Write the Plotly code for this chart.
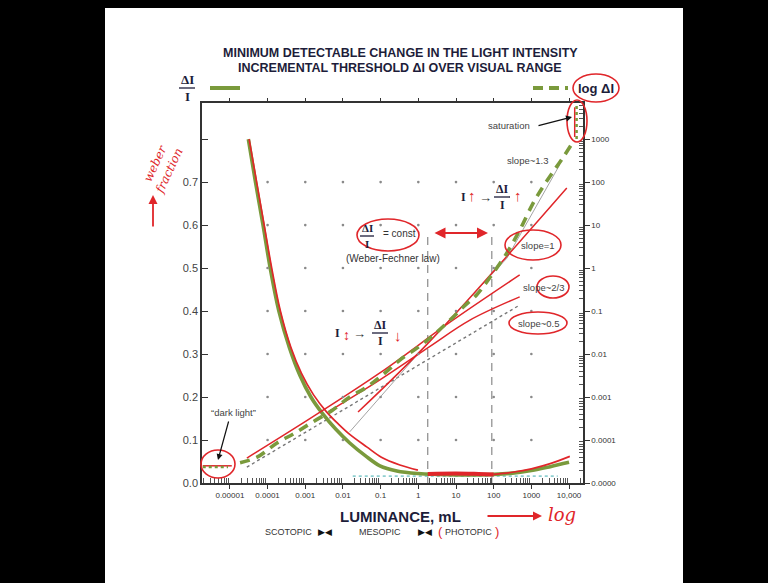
import numpy as np
import plotly.graph_objects as go

# ---------------------------------------------------------------- data
# Weber fraction dI/I against luminance (x stored as log10 of mL)
weber_log_lum = [-4.51, -4.32, -4.12, -3.93, -3.70, -3.42, -3.14, -2.85, -2.53, -2.20,
                 -1.82, -1.40, -1.02, -0.57, 0.0, 0.5, 1.0, 1.5, 2.0, 2.5, 3.0, 3.5, 4.0]
weber_frac = [0.80, 0.70, 0.60, 0.50, 0.40, 0.315, 0.250, 0.200, 0.160, 0.126,
              0.093, 0.063, 0.040, 0.028, 0.022, 0.020, 0.019, 0.019, 0.020, 0.023, 0.029, 0.038, 0.048]

# incremental threshold log10(dI) against luminance
thresh_log_lum = [-4.73, -4.28, -3.75, -3.28, -2.80, -2.27, -1.82, -1.37, -0.90, -0.49, 0.00, 0.40,
                  0.84, 1.20, 1.55, 1.90, 2.35, 2.69, 3.04, 3.30, 3.57, 3.83, 4.12]
thresh_log_dI = [-4.53, -4.40, -4.07, -3.84, -3.58, -3.30, -3.00, -2.77, -2.45, -2.14, -1.84, -1.56,
                 -1.21, -0.90, -0.62, -0.22, 0.35, 0.88, 1.50, 1.88, 2.23, 2.56, 2.95]

# "dark light" floor and saturation ceiling of the threshold curve
dark_log_lum = [-5.72, -5.05]
dark_log_dI = [-4.63, -4.63]
sat_log_lum = [4.2, 4.2]
sat_log_dI = [3.0, 3.84]

# red pen traces drawn over the chart (x: log10 mL, y: left-axis units)
pen_weber_log_lum = [-4.49, -4.29, -4.09, -3.89, -3.66, -3.38, -3.10, -2.78, -2.43, -2.12,
                     -1.82, -1.37, -0.98, -0.49, -0.01]
pen_weber_y = [0.80, 0.70, 0.60, 0.50, 0.40, 0.315, 0.255, 0.205, 0.165, 0.137,
               0.113, 0.084, 0.060, 0.042, 0.030]
pen_flat_log_lum = [0.25, 1.0, 1.6, 2.0]
pen_flat_y = [0.021, 0.022, 0.021, 0.020]
pen_rise_log_lum = [2.0, 2.5, 3.0, 3.5, 4.02]
pen_rise_y = [0.020, 0.025, 0.033, 0.045, 0.062]
pen_dark_log_lum = [-5.72, -4.95]
pen_dark_y = [0.040, 0.040]
pen_sat_log_lum = [4.15, 4.15]
pen_sat_y = [0.805, 0.874]

slope1_log_lum = [-1.60, 0.31, 3.94]
slope1_y = [0.165, 0.330, 0.686]
slope23_log_lum = [-4.55, -3.14, -1.02, 0.84, 2.69]
slope23_y = [0.058, 0.135, 0.256, 0.374, 0.484]
slope05_log_lum = [-2.35, -1.02, 0.31, 1.37, 2.69]
slope05_y = [0.168, 0.240, 0.318, 0.379, 0.433]

# thin grey reference lines
ref_half_log_lum = [-4.55, 2.69]
ref_half_y = [0.037, 0.414]
ref_one_log_lum = [-1.82, 0.04, 2.35, 3.75]
ref_one_y = [0.119, 0.305, 0.523, 0.740]
floor_log_lum = [-1.74, 3.70]
floor_y = [0.016, 0.016]

# scotopic / mesopic / photopic boundaries (log10 mL)
boundary_log_lum = [0.25, 1.95]
boundary_top = 0.572

# axes
x_decades = [-5, -4, -3, -2, -1, 0, 1, 2, 3, 4]
x_ticktext = ["0.00001", "0.0001", "0.001", "0.01", "0.1", "1", "10", "100", "1000", "10,000"]
y_ticks = [0.0, 0.1, 0.2, 0.3, 0.4, 0.5, 0.6, 0.7, 0.8]
y_ticktext = ["0.0", "0.1", "0.2", "0.3", "0.4", "0.5", "0.6", "0.7", ""]
y2_decades = [-5, -4, -3, -2, -1, 0, 1, 2, 3]
y2_ticktext = ["0.0000", "0.0001", "0.001", "0.01", "0.1", "1", "10", "100", "1000"]
grid_x_decades = [-4, -3, -2, -1, 0, 1, 2, 3]
grid_y = [0.1, 0.2, 0.3, 0.4, 0.5, 0.6, 0.7]

# ---------------------------------------------------------------- style
W, H = 768, 583
PL, PR, PT, PB = 202, 583, 103, 483
GREEN = "#7a9a3c"
RED = "#e0262a"
NAVY = "#1d1d3a"
GREY = "#444444"
SANS = "Liberation Sans"
SERIF = "Liberation Serif"


def lum(v):
    return 10 ** np.asarray(v, dtype=float)


def px(x):
    return (x - PL) / (PR - PL)


def py(y):
    return (PB - y) / (PB - PT)


fig = go.Figure()


def line(xl, yv, color, width, dash=None, y2=False, shape="linear", xaxis="x"):
    fig.add_trace(go.Scatter(
        x=lum(xl), y=(lum(yv) if y2 else yv), mode="lines",
        line=dict(color=color, width=width, dash=dash, shape=shape),
        yaxis="y2" if y2 else "y", xaxis=xaxis, hoverinfo="skip", showlegend=False))


# grid dots
gx, gy = np.meshgrid(grid_x_decades, grid_y)
fig.add_trace(go.Scatter(x=lum(gx.ravel()), y=gy.ravel(), mode="markers", xaxis="x2",
                         marker=dict(size=2.6, color="#8a8a8a"), hoverinfo="skip", showlegend=False))

# boundaries
for b in boundary_log_lum:
    line([b, b], [0, boundary_top], "#8a8a8a", 1.2, dash="8px,6px")

line(floor_log_lum, floor_y, "#8fcfd0", 1.6, dash="dot")
line(ref_half_log_lum, ref_half_y, "#777777", 1.4, dash="dot")
line(ref_one_log_lum, ref_one_y, "#999999", 0.9)

# main curves
line(weber_log_lum, weber_frac, GREEN, 3.6, shape="spline")
line(thresh_log_lum, thresh_log_dI, GREEN, 3.6, dash="10px,7px", y2=True, shape="spline")
line(dark_log_lum, dark_log_dI, GREEN, 2.5, dash="dot", y2=True)
line(sat_log_lum, sat_log_dI, GREEN, 2.5, dash="dot", y2=True)

# red pen overlay
line(pen_weber_log_lum, pen_weber_y, RED, 1.7, shape="spline")
line(pen_flat_log_lum, pen_flat_y, RED, 4.0, shape="spline")
line(pen_rise_log_lum, pen_rise_y, RED, 1.7, shape="spline")
line(pen_dark_log_lum, pen_dark_y, RED, 1.5)
line(pen_sat_log_lum, pen_sat_y, RED, 1.5)
line(slope1_log_lum, slope1_y, RED, 1.5, shape="spline")
line(slope23_log_lum, slope23_y, RED, 1.5, shape="spline")
line(slope05_log_lum, slope05_y, RED, 1.5, shape="spline")

# ---------------------------------------------------------------- decorations
ann, shp = [], []

# white slide on black frame
shp.append(dict(type="rect", xref="paper", yref="paper", layer="below",
                x0=px(105), x1=px(683), y0=py(583), y1=py(8),
                fillcolor="white", line=dict(width=0)))


def txt(x, y, s, size=10, color=GREY, family=SANS, **kw):
    d = dict(x=px(x), y=py(y), xref="paper", yref="paper", text=s, showarrow=False,
             xanchor="center", yanchor="middle",
             font=dict(size=size, color=color, family=family))
    d.update(kw)
    ann.append(d)


def frac(x, y, num, den, size=12, w=16, color=NAVY):
    txt(x, y - 8, f"<b>{num}</b>", size, color, SERIF)
    txt(x, y + 8, f"<b>{den}</b>", size, color, SERIF)
    shp.append(dict(type="line", xref="paper", yref="paper", x0=px(x - w / 2), x1=px(x + w / 2),
                    y0=py(y), y1=py(y), line=dict(color=color, width=1.3)))


def ellipse(cx, cy, rx, ry, width=1.6):
    shp.append(dict(type="circle", xref="paper", yref="paper",
                    x0=px(cx - rx), x1=px(cx + rx), y0=py(cy + ry), y1=py(cy - ry),
                    line=dict(color=RED, width=width)))


def arrow(x0, y0, x1, y1, color, width=1.4, both=False):
    ann.append(dict(x=px(x1), y=py(y1), xref="paper", yref="paper",
                    ax=x0 - x1, ay=y0 - y1, axref="pixel", ayref="pixel",
                    showarrow=True, arrowhead=2, arrowsize=1, arrowcolor=color, arrowwidth=width,
                    arrowside="end+start" if both else "end", text=""))


# titles
txt(400, 53, "<b>MINIMUM DETECTABLE CHANGE IN THE LIGHT INTENSITY</b>", 12.5, NAVY)
txt(400, 68, "<b>INCREMENTAL THRESHOLD \u0394I OVER VISUAL RANGE</b>", 12.5, NAVY)

# legend
frac(187, 88, "\u0394I", "I", 13)
shp.append(dict(type="line", xref="paper", yref="paper", x0=px(210), x1=px(240), y0=py(88), y1=py(88),
                line=dict(color=GREEN, width=4)))
shp.append(dict(type="line", xref="paper", yref="paper", x0=px(533), x1=px(568), y0=py(88), y1=py(88),
                line=dict(color=GREEN, width=4, dash="10px,6px")))
txt(596, 88, "<b>log \u0394I</b>", 13, NAVY)
ellipse(596, 88, 23, 14)

# saturation
arrow(537, 126, 572, 117, "#111111", 1.2)
txt(509, 126, "saturation", 9.5)
ellipse(577, 121, 10, 21)
txt(527, 160, "slope~1.3", 9.5)

# I up -> dI/I up
txt(463, 197, "<b>I</b>", 12, NAVY, SERIF)
txt(472, 195, "<b>\u2191</b>", 15, RED)
txt(485, 197, "\u2192", 13, "#333333")
frac(502, 197, "\u0394I", "I", 12)
txt(518, 195, "<b>\u2191</b>", 15, RED)

# Weber-Fechner region
frac(367, 236, "\u0394I", "I", 11, 14)
txt(399, 234, "= const", 10, "#333333")
ellipse(388, 235, 31, 16)
txt(393, 258, "(Weber-Fechner law)", 10, "#333333")
arrow(433, 233, 488, 233, RED, 2.2, both=True)

txt(538, 245, "slope=1", 9.5)
ellipse(533, 245, 28, 15)
txt(543, 287, "slope~2/3", 9.5)
ellipse(553, 287, 16, 11)
txt(538, 323, "slope~0.5", 9.5)
ellipse(538, 323, 29, 11)

# I down -> dI/I down
txt(337, 333, "<b>I</b>", 12, NAVY, SERIF)
txt(346, 335, "<b>\u2195</b>", 14, RED)
txt(359, 333, "\u2192", 13, "#333333")
frac(380, 333, "\u0394I", "I", 12)
txt(398, 335, "<b>\u2193</b>", 15, RED)

# dark light
arrow(229, 420, 218, 460, "#111111", 1.2)
txt(233, 412, "\u201cdark light\u201d", 9.5)
ellipse(218, 464, 17, 14)

# axis caption and vision ranges
txt(400, 516, "<b>LUMINANCE, mL</b>", 15, NAVY)
arrow(486, 516, 542, 516, RED, 1.8)
txt(562, 514, "<i>log</i>", 18, RED, "DejaVu Serif")
txt(288, 532, "SCOTOPIC", 9, "#333333")
txt(325, 532, "\u25b6\u25c0", 9, "#111111")
txt(380, 532, "MESOPIC", 9, "#333333")
txt(425, 532, "\u25b6\u25c0", 9, "#111111")
txt(440, 531, "(", 13, RED)
txt(468, 532, "PHOTOPIC", 9, "#333333")
txt(497, 531, ")", 13, RED)

# pen note on the left axis
txt(162, 168, "<i>weber<br>fraction</i>", 12, RED, "DejaVu Serif", textangle=-65)
arrow(153, 228, 153, 195, RED, 1.8)

minor_x = [m * 10.0 ** k for k in range(-6, 5) for m in range(2, 10)]
minor_y2 = [m * 10.0 ** k for k in range(-6, 4) for m in range(2, 10)]
tickfont = dict(family=SANS, size=8, color="#333333")

fig.update_layout(
    width=W, height=H, autosize=False,
    margin=dict(l=PL, r=W - PR, t=PT, b=H - PB, pad=0),
    paper_bgcolor="black", plot_bgcolor="white",
    shapes=shp, annotations=ann, showlegend=False,
    xaxis=dict(type="log", range=[-5.74, 4.37], tickmode="array",
               tickvals=list(lum(x_decades)), ticktext=x_ticktext, tickfont=tickfont,
               ticks="outside", ticklen=4, tickcolor="#333333", tickwidth=1.2,
               minor=dict(tickmode="array", tickvals=minor_x, ticks="inside", ticklen=5,
                          tickcolor="#555555", tickwidth=1),
               showgrid=False, zeroline=False, showline=True, linecolor="#333333",
               linewidth=1.5, mirror=True),
    xaxis2=dict(type="log", range=[-5.74, 4.37], overlaying="x", side="top",
                tickmode="array", tickvals=list(lum(x_decades)), ticks="outside", ticklen=4,
                tickcolor="#333333", showticklabels=False, showgrid=False, zeroline=False),
    yaxis=dict(range=[0, 0.884], tickmode="array", tickvals=y_ticks, ticktext=y_ticktext,
               tickfont=dict(family=SANS, size=11, color=GREY), ticks="inside", ticklen=6,
               tickcolor="#333333", tickwidth=1.2, showgrid=False, zeroline=False,
               showline=True, linecolor="#333333", linewidth=1.5),
    yaxis2=dict(type="log", range=[-5, 3.84], overlaying="y", side="right", tickmode="array",
                tickvals=list(lum(y2_decades)), ticktext=y2_ticktext, tickfont=tickfont,
                ticks="outside", ticklen=5, tickcolor="#333333", tickwidth=1.2,
                minor=dict(tickmode="array", tickvals=minor_y2, ticks="inside", ticklen=4,
                           tickcolor="#555555", tickwidth=1),
                showgrid=False, zeroline=False, showline=True, linecolor="#333333", linewidth=1.5),
)

fig.write_html("out.html")
